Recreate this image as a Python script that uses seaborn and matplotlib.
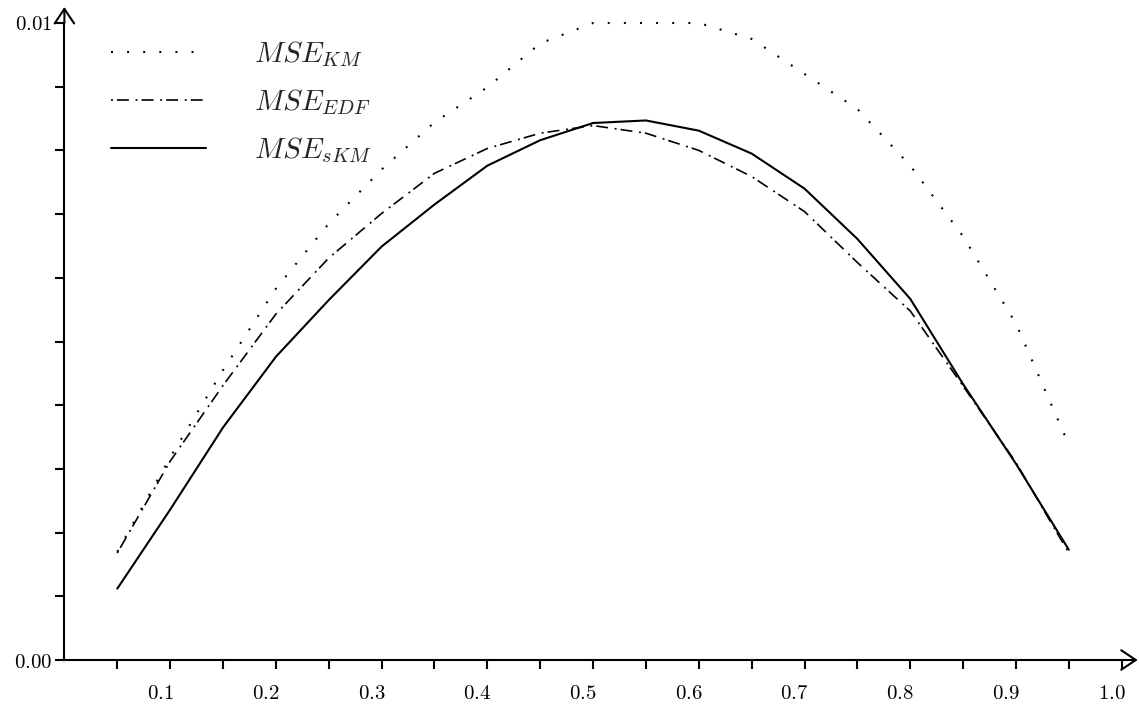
import numpy as np
import pandas as pd
import matplotlib
matplotlib.use("Agg")
import matplotlib.pyplot as plt
from matplotlib.transforms import ScaledTranslation
from matplotlib.ticker import FixedLocator, FixedFormatter
import seaborn as sns

# Probability grid and mean squared errors of the three estimators
p_grid = [0.05, 0.10, 0.15, 0.20, 0.25, 0.30, 0.35, 0.40, 0.45, 0.50,
          0.55, 0.60, 0.65, 0.70, 0.75, 0.80, 0.85, 0.90, 0.95]
mse_km = [0.00170, 0.00318, 0.00455, 0.00583, 0.00685, 0.00770, 0.00844,
          0.00899, 0.00968, 0.01000, 0.01000, 0.01000, 0.00975, 0.00920,
          0.00865, 0.00776, 0.00665, 0.00528, 0.00338]
mse_edf = [0.00168, 0.00312, 0.00431, 0.00543, 0.00631, 0.00701, 0.00764,
           0.00803, 0.00827, 0.00839, 0.00827, 0.00800, 0.00759, 0.00704,
           0.00624, 0.00548, 0.00430, 0.00310, 0.00168]
mse_skm = [0.00112, 0.00236, 0.00365, 0.00476, 0.00565, 0.00649, 0.00715,
           0.00776, 0.00816, 0.00843, 0.00847, 0.00831, 0.00795, 0.00740,
           0.00661, 0.00567, 0.00433, 0.00308, 0.00173]
series_labels = [r"$MSE_{KM}$", r"$MSE_{EDF}$", r"$MSE_{sKM}$"]

x_ticks = [0.05, 0.10, 0.15, 0.20, 0.25, 0.30, 0.35, 0.40, 0.45, 0.50,
           0.55, 0.60, 0.65, 0.70, 0.75, 0.80, 0.85, 0.90, 0.95, 1.00]
x_tick_labels = ["", "0.1", "", "0.2", "", "0.3", "", "0.4", "", "0.5",
                 "", "0.6", "", "0.7", "", "0.8", "", "0.9", "", "1.0"]
y_ticks = [0.000, 0.001, 0.002, 0.003, 0.004, 0.005, 0.006, 0.007, 0.008,
           0.009, 0.010]
y_tick_labels = ["0.00", "", "", "", "", "", "", "", "", "", "0.01"]

sns.set_style("white")
plt.rcParams["mathtext.fontset"] = "cm"
plt.rcParams["font.family"] = ["DejaVu Serif"]
plt.rcParams["lines.scale_dashes"] = False

W, H = 1139, 708
fig = plt.figure(figsize=(W / 100, H / 100), dpi=100)
ax_left, ax_right, ax_bottom, ax_top = 64.4, 1121.7, 660, 23
ax = fig.add_axes([ax_left / W, (H - ax_bottom) / H,
                   (ax_right - ax_left) / W, (ax_bottom - ax_top) / H])

df = pd.DataFrame({"p": p_grid, "km": mse_km, "edf": mse_edf, "skm": mse_skm})

styles = [
    ("km", (0, (1.4, 10.2)), 1.5),
    ("edf", (0, (1.4, 2.9, 8.6, 4.8)), 1.2),
    ("skm", "-", 1.5),
]
for (col, ls, lw), lab in zip(styles, series_labels):
    sns.lineplot(data=df, x="p", y=col, ax=ax, color="black", linestyle=ls,
                 linewidth=lw, label=lab, clip_on=False)

ax.set_xlim(0, 1.0)
ax.set_ylim(0, 0.01)
ax.set_xlabel("")
ax.set_ylabel("")

for side in ("top", "right"):
    ax.spines[side].set_visible(False)
for side in ("left", "bottom"):
    ax.spines[side].set_color("black")
    ax.spines[side].set_linewidth(1.5)

ax.xaxis.set_major_locator(FixedLocator(x_ticks))
ax.xaxis.set_major_formatter(FixedFormatter(
    [f"${t}$" if t else "" for t in x_tick_labels]))
ax.yaxis.set_major_locator(FixedLocator(y_ticks))
ax.yaxis.set_major_formatter(FixedFormatter(
    [f"${t}$" if t else "" for t in y_tick_labels]))
ax.tick_params(axis="both", direction="out", length=6.5, width=1.5,
               color="black", labelsize=15, labelcolor="black",
               bottom=True, left=True)
ax.tick_params(axis="x", pad=11)
ax.tick_params(axis="y", pad=2)

# shift x tick labels slightly to the left of their ticks
shift = ScaledTranslation(-10 / 100, 0, fig.dpi_scale_trans)
for tick in ax.xaxis.get_major_ticks():
    tick.label1.set_transform(tick.label1.get_transform() + shift)

# open arrowheads at the ends of both axes
arrow = dict(arrowstyle="->,head_length=10.5,head_width=7", lw=1.5,
             color="black", mutation_scale=1, shrinkA=0, shrinkB=0)
ax.annotate("", xy=(1 + 16 / (ax_right - ax_left), 0), xytext=(1, 0),
            xycoords="axes fraction", textcoords="axes fraction",
            arrowprops=arrow, annotation_clip=False)
ax.annotate("", xy=(0, 1 + 16 / (ax_bottom - ax_top)), xytext=(0, 1),
            xycoords="axes fraction", textcoords="axes fraction",
            arrowprops=arrow, annotation_clip=False)

leg = ax.legend(loc="upper left", bbox_to_anchor=(111 / W, 1 - 39 / H),
                bbox_transform=fig.transFigure, frameon=False, fontsize=21,
                handlelength=3.25, handletextpad=1.65, labelspacing=0.62,
                borderpad=0, borderaxespad=0)

fig.savefig("out.png", dpi=100, facecolor="white")
